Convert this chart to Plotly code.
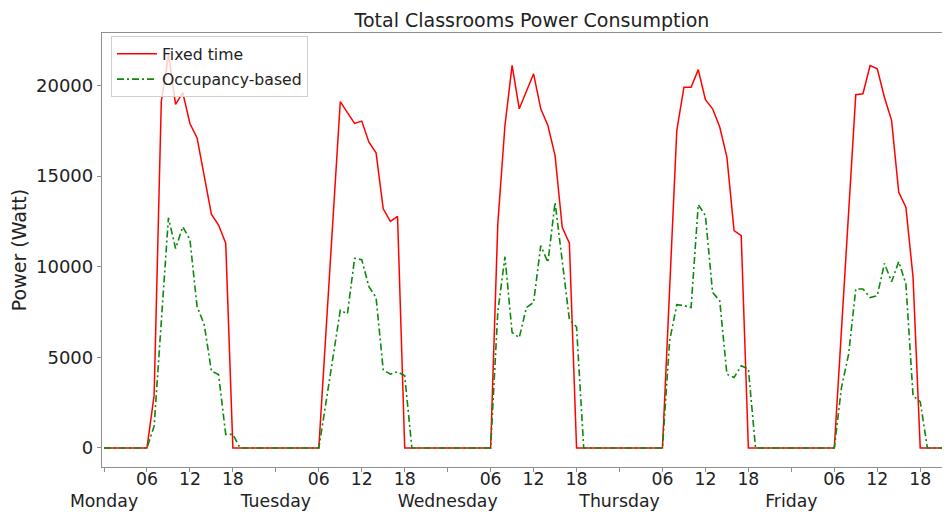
import plotly.graph_objects as go

# ---- data (hourly values, Watt) ----
days = ["Monday", "Tuesday", "Wednesday", "Thursday", "Friday"]
hour_labels = ["06", "12", "18"]

fixed_mon = [0, 0, 0, 0, 0, 0, 0, 2900, 19100, 21700, 18950, 19600, 17900, 17100, 15000, 12900, 12300, 11300, 0, 0, 0, 0, 0, 0]
fixed_tue = [0, 0, 0, 0, 0, 0, 0, 6400, 12700, 19100, 18500, 17900, 18030, 16870, 16280, 13190, 12500, 12780, 0, 0, 0, 0, 0, 0]
fixed_wed = [0, 0, 0, 0, 0, 0, 0, 12360, 17790, 21100, 18710, 19680, 20640, 18710, 17790, 16130, 12170, 11290, 0, 0, 0, 0, 0, 0]
fixed_thu = [0, 0, 0, 0, 0, 0, 0, 8750, 17510, 19900, 19900, 20870, 19210, 18710, 17700, 16040, 11990, 11710, 0, 0, 0, 0, 0, 0]
fixed_fri = [0, 0, 0, 0, 0, 0, 0, 6500, 13000, 19490, 19540, 21100, 20920, 19350, 18070, 14100, 13280, 9410, 0, 0, 0, 0, 0, 0]

occ_mon = [0, 0, 0, 0, 0, 0, 0, 1200, 7000, 12700, 11000, 12200, 11500, 7800, 6800, 4250, 4050, 750, 750, 0, 0, 0, 0, 0]
occ_tue = [0, 0, 0, 0, 0, 0, 0, 2500, 5100, 7600, 7400, 10460, 10390, 8900, 8300, 4300, 4070, 4200, 3980, 0, 0, 0, 0, 0]
occ_wed = [0, 0, 0, 0, 0, 0, 0, 7500, 10550, 6370, 6090, 7750, 8030, 11160, 10240, 13550, 10300, 7080, 6670, 0, 0, 0, 0, 0]
occ_thu = [0, 0, 0, 0, 0, 0, 0, 5910, 7900, 7850, 7750, 13425, 12820, 8580, 8120, 4070, 3890, 4530, 4350, 0, 0, 0, 0, 0]
occ_fri = [0, 0, 0, 0, 0, 0, 0, 3330, 5180, 8770, 8770, 8300, 8400, 10180, 9170, 10280, 9040, 2870, 2560, 0, 0, 0, 0, 0]

fixed = fixed_mon + fixed_tue + fixed_wed + fixed_thu + fixed_fri
occupancy = occ_mon + occ_tue + occ_wed + occ_thu + occ_fri
hours = list(range(len(fixed)))

tickvals, ticktext = [], []
for d, name in enumerate(days):
    tickvals.append(24 * d)
    ticktext.append("<br>" + name)
    for k, lab in enumerate(hour_labels):
        tickvals.append(24 * d + 6 * (k + 1))
        ticktext.append(lab)

FONT = "DejaVu Sans"
AX = "#8f8f8f"
TXT = "#222222"

# the page body has an 8px margin, so the figure is sized to fill the rest
W, H = 942, 504

fig = go.Figure()
fig.add_trace(go.Scatter(x=hours, y=fixed, mode="lines", name="Fixed time",
                         legendgroup="a",
                         line=dict(color="red", width=1.5)))
fig.add_trace(go.Scatter(x=hours, y=occupancy, mode="lines", name="Occupancy-based",
                         legendgroup="b",
                         line=dict(color="#0a8a0a", width=1.6, dash="7px,3px,2px,3px")))

fig.update_layout(
    width=W, height=H,
    margin=dict(l=94, r=0, t=25, b=45, autoexpand=False),
    paper_bgcolor="white", plot_bgcolor="white",
    font=dict(family=FONT, color=TXT, size=17),
    title=dict(text="Total Classrooms Power Consumption",
               font=dict(size=19, family=FONT, color=TXT),
               x=524 / W, xanchor="center", y=1 - 12 / H, yanchor="middle"),
    showlegend=True,
    legend=dict(x=0.0106, y=0.993, xanchor="left", yanchor="top",
                bgcolor="rgba(255,255,255,0.8)", bordercolor="#d0d0d0", borderwidth=1,
                font=dict(size=15.7, family=FONT, color=TXT),
                itemwidth=40, tracegroupgap=2),
    xaxis=dict(range=[-0.28, 118.16], tickmode="array", tickvals=tickvals, ticktext=ticktext,
               tickangle=0, automargin=False, ticklabelstandoff=-8,
               showgrid=False, zeroline=False, showline=True, linecolor=AX, linewidth=1.3,
               mirror=True, ticks="outside", ticklen=4, tickcolor=AX, tickwidth=1,
               tickfont=dict(size=17.3, family=FONT, color=TXT)),
    yaxis=dict(range=[-1050, 22890], tickmode="array",
               tickvals=[0, 5000, 10000, 15000, 20000],
               ticktext=["0", "5000", "10000", "15000", "20000"],
               automargin=False,
               showgrid=False, zeroline=False, showline=True, linecolor=AX, linewidth=1.3,
               ticks="outside", ticklen=4, tickcolor=AX, tickwidth=1,
               tickfont=dict(size=18, family=FONT, color=TXT),
               title=dict(text="Power (Watt)", font=dict(size=19, family=FONT, color=TXT),
                          standoff=8)),
)

fig.write_html("out.html")
